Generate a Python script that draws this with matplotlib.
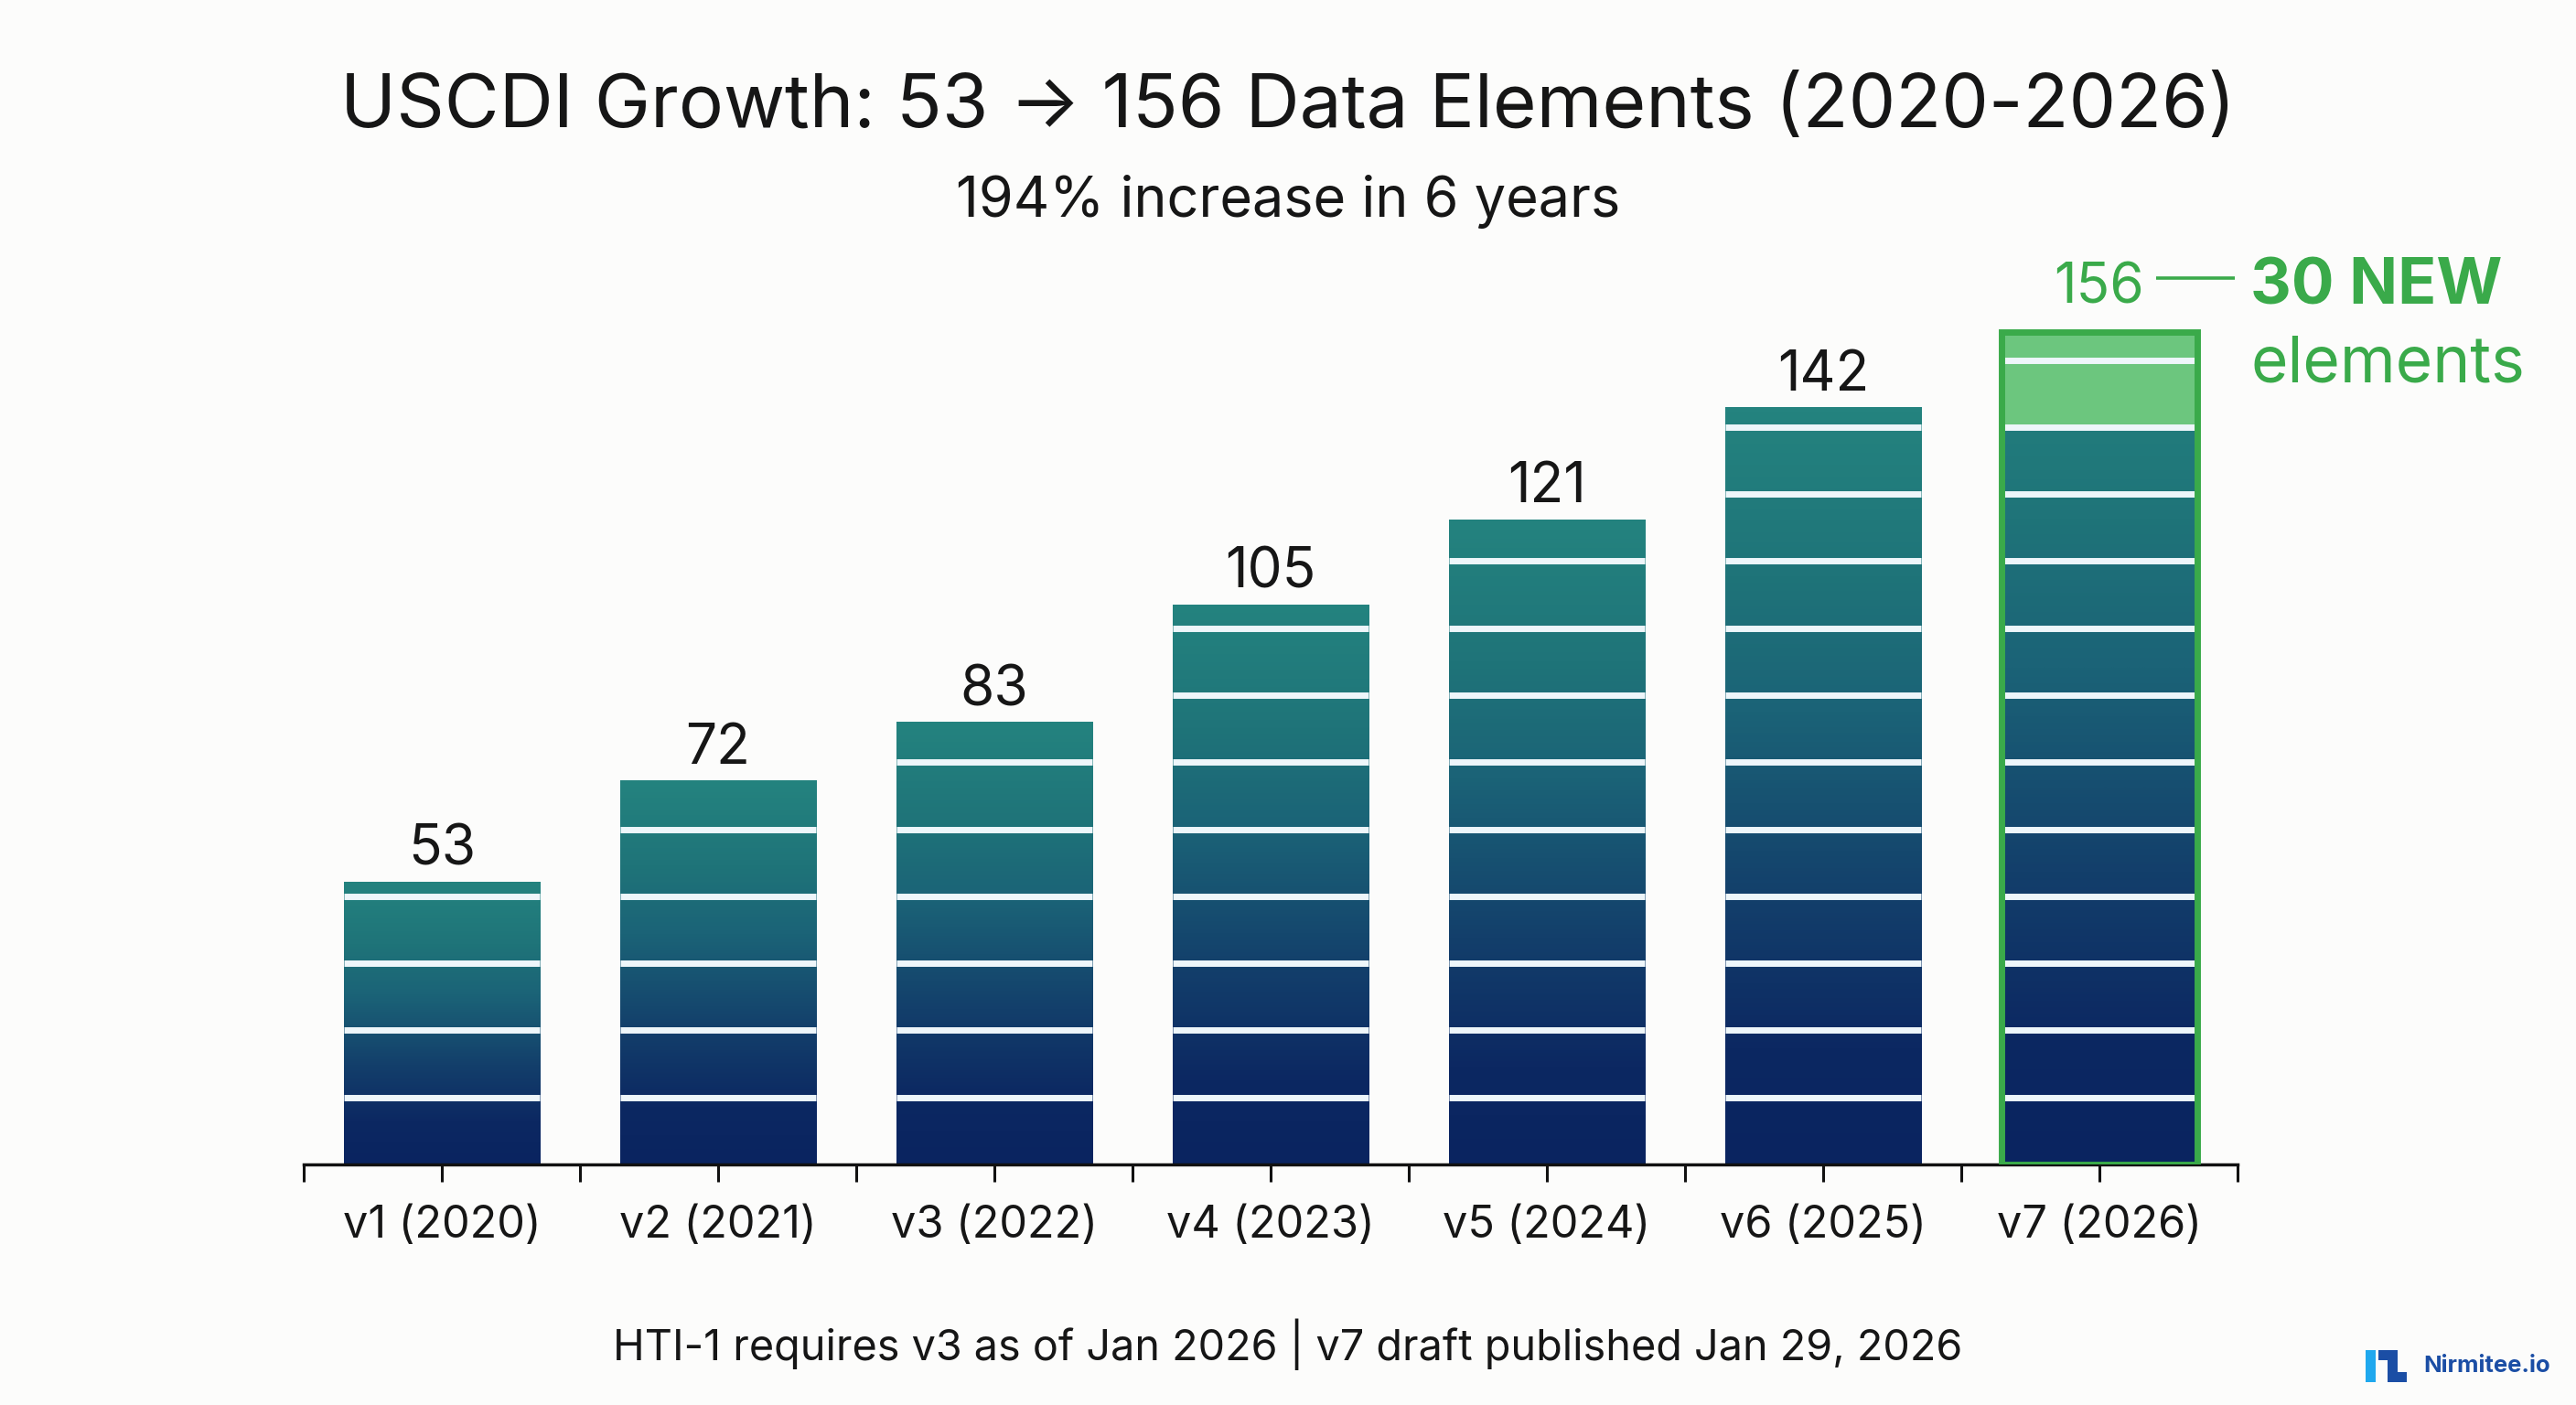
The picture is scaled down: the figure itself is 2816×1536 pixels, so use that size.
import numpy as np
import matplotlib
matplotlib.use("Agg")
import matplotlib.pyplot as plt
from matplotlib.colors import LinearSegmentedColormap
from matplotlib.patches import Rectangle
from matplotlib.transforms import offset_copy

# ---------------- data ----------------
versions = ["v1 (2020)", "v2 (2021)", "v3 (2022)", "v4 (2023)", "v5 (2024)", "v6 (2025)", "v7 (2026)"]
elements = [53, 72, 83, 105, 121, 142, 156]
highlight_from = 138.3          # start of the green "new" block on the last bar
new_label_top = "30 NEW"
new_label_bottom = "elements"

title = "USCDI Growth: 53 \u2192 156 Data Elements (2020-2026)"
subtitle = "194% increase in 6 years"
footer = "HTI-1 requires v3 as of Jan 2026 | v7 draft published Jan 29, 2026"
brand = "Nirmitee.io"

# ---------------- style ----------------
BG = "#fcfcfb"
TXT = "#161616"
GREEN = "#3aaa4a"
GREEN_FILL = "#6cc67e"
STRIPE = "#eef6fa"
STRIPE_STEP = 12.57
W = 0.71

plt.rcParams["font.family"] = ["Inter", "DejaVu Sans"]

FW, FH = 2816, 1536
fig = plt.figure(figsize=(FW / 100, FH / 100), dpi=100, facecolor=BG)
ax = fig.add_axes([332 / FW, 263 / FH, 2114 / FW, 962 / FH])
ax.set_facecolor("none")

cmap = LinearSegmentedColormap.from_list(
    "bar", [(0.0, "#0a2460"), (0.15, "#0c2862"), (0.35, "#133f6b"),
            (0.6, "#1b6377"), (0.78, "#1f7479"), (1.0, "#24837f")])
grad = np.linspace(0, 1, 256).reshape(-1, 1)

x = np.arange(len(versions))
bars = ax.bar(x, elements, width=W, color="none", edgecolor="none", zorder=2)

last = len(elements) - 1
for i, (xi, h, b) in enumerate(zip(x, elements, bars)):
    im = ax.imshow(grad, extent=(xi - W / 2, xi + W / 2, 0, h), origin="lower",
                   aspect="auto", cmap=cmap, zorder=1, interpolation="bilinear")
    im.set_clip_path(b)
    if i == last:
        ax.add_patch(Rectangle((xi - W / 2, highlight_from), W, h - highlight_from,
                               facecolor=GREEN_FILL, edgecolor="none", zorder=1.5))
    levels = np.arange(STRIPE_STEP, h - 0.5, STRIPE_STEP)
    ax.hlines(levels, xi - W / 2, xi + W / 2, colors=STRIPE, linewidth=5,
              capstyle="butt", zorder=3)
    if i == last:
        ax.add_patch(Rectangle((xi - W / 2, 0), W, h, fill=False, edgecolor=GREEN,
                               linewidth=5, zorder=4, joinstyle="miter"))
        ax.annotate(str(h), (xi, h), xytext=(0, 23), textcoords="offset points",
                    ha="center", va="baseline", fontsize=43.5, color=GREEN)
        tr = offset_copy(ax.transData, fig=fig, x=0, y=43, units="points")
        ax.plot([xi + 0.205, xi + 0.49], [h, h], transform=tr, color=GREEN,
                linewidth=2.6, clip_on=False, solid_capstyle="butt")
        ax.annotate(new_label_top, (xi, h), xytext=(118.8, 22.5), textcoords="offset points",
                    ha="left", va="baseline", fontsize=50, fontweight="bold", color=GREEN)
        ax.annotate(new_label_bottom, (xi, h), xytext=(118.8, -39), textcoords="offset points",
                    ha="left", va="baseline", fontsize=50, color=GREEN)
    else:
        ax.annotate(str(h), (xi, h), xytext=(0, 13), textcoords="offset points",
                    ha="center", va="baseline", fontsize=43.5, color=TXT)

ax.set_xlim(-0.5, len(versions) - 0.5)
ax.set_ylim(0, 165)
ax.set_xticks(x)
ax.set_xticklabels(versions, fontsize=35, color=TXT)
ax.set_xticks(np.arange(-0.5, len(versions), 1), minor=True)
ax.tick_params(axis="x", which="both", length=14, width=2.2, color="#111111", pad=18)
ax.set_yticks([])
for s in ["left", "right", "top"]:
    ax.spines[s].set_visible(False)
ax.spines["bottom"].set_linewidth(2.5)
ax.spines["bottom"].set_color("#111111")

fig.text(0.5, 1 - 118 / FH, title, ha="center", va="center", fontsize=59, color=TXT)
fig.text(0.5, 1 - 220 / FH, subtitle, ha="center", va="center", fontsize=44, color=TXT)
fig.text(0.5, 1 - 1470 / FH, footer, ha="center", va="center", fontsize=33.7, color=TXT)

# brand mark
def px_rect(x0, y0, x1, y1, color):
    fig.add_artist(Rectangle((x0 / FW, 1 - y1 / FH), (x1 - x0) / FW, (y1 - y0) / FH,
                             transform=fig.transFigure, facecolor=color, edgecolor="none"))

px_rect(2586, 1476, 2597, 1511, "#1fa8ee")
px_rect(2600, 1476, 2621, 1487, "#1b4ea5")
px_rect(2610, 1476, 2621, 1511, "#1b4ea5")
px_rect(2610, 1500, 2631, 1511, "#1b4ea5")
fig.text(2649 / FW, 1 - 1493 / FH, brand, ha="left", va="center", fontsize=18.5,
         fontweight="bold", color="#1b4ea5")

fig.savefig("out.png", dpi=100, facecolor=BG)
